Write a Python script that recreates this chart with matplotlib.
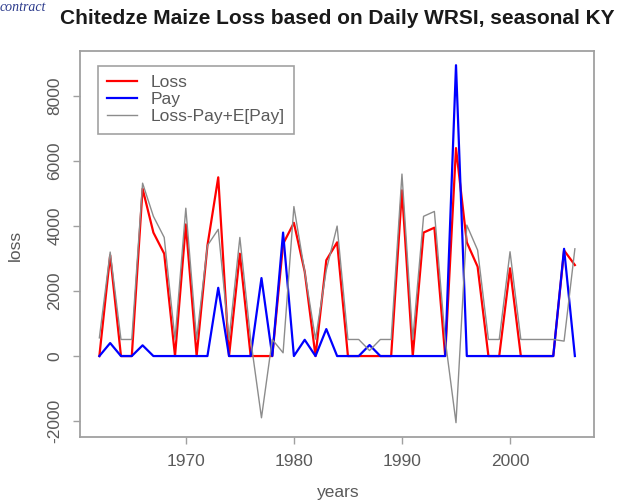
# Chitedze maize loss vs index payout (daily WRSI, seasonal KY)
import numpy as np
import matplotlib
matplotlib.use('Agg')
import matplotlib.pyplot as plt

plt.rcParams['font.family'] = ['Liberation Sans', 'DejaVu Sans']

# Data
years = list(range(1962, 2007))
loss = [0, 3100, 0, 0, 5150, 3800, 3150, 0, 4050, 0,
        3400, 5500, 0, 3150, 0, 0, 0, 3450, 4100, 2600,
        0, 2950, 3500, 0, 0, 0, 0, 0, 5100, 0,
        3800, 3950, 0, 6400, 3500, 2750, 0, 0, 2700, 0,
        0, 0, 0, 3250, 2800]
pay = [0, 400, 0, 0, 330, 0, 0, 0, 0, 0,
       0, 2100, 0, 0, 0, 2400, 0, 3800, 0, 500,
       0, 830, 0, 0, 0, 340, 0, 0, 0, 0,
       0, 0, 0, 8950, 0, 0, 0, 0, 0, 0,
       0, 0, 0, 3300, 0]
loss_net = [560, 3200, 510, 510, 5320, 4300, 3650, 510, 4550, 510,
            3400, 3900, 510, 3650, 510, -1900, 510, 100, 4600, 2600,
            520, 2650, 4000, 510, 510, 170, 510, 510, 5600, 510,
            4300, 4450, 510, -2050, 4030, 3260, 510, 510, 3210, 510,
            510, 510, 510, 460, 3300]
series_labels = ['Loss', 'Pay', 'Loss-Pay+E[Pay]']
yticks = [-2000, 0, 2000, 4000, 6000, 8000]
xticks = [1970, 1980, 1990, 2000]

fig = plt.figure(figsize=(6.18, 5.04), dpi=100)
ax = fig.add_axes([0.130, 0.133, 0.831, 0.766])

ax.plot(years, loss, color='#ff0000', lw=1.6, label=series_labels[0])
ax.plot(years, pay, color='#0000ff', lw=1.6, label=series_labels[1])
ax.plot(years, loss_net, color='#8c8c8c', lw=1.0, label=series_labels[2])
ax.margins(x=0.04, y=0.04)

axis_grey = '#a0a0a0'
text_grey = '#5a5a5a'
for s in ax.spines.values():
    s.set_color(axis_grey)
    s.set_linewidth(1.3)

ax.set_xticks(xticks)
ax.set_yticks(yticks)
ax.set_yticklabels([str(v) for v in yticks], rotation=90, va='center')
ax.tick_params(axis='both', colors=axis_grey, labelcolor=text_grey,
               labelsize=12.5, length=5, width=1.0)
ax.tick_params(axis='x', pad=7)
ax.tick_params(axis='y', pad=8)

leg = ax.legend(loc='upper left', bbox_to_anchor=(0.034, 0.962), borderaxespad=0,
                fontsize=12.5, frameon=True, fancybox=False, labelspacing=0.1,
                handlelength=1.7, handletextpad=0.8, borderpad=0.55)
leg.get_frame().set_edgecolor('#8a8a8a')
leg.get_frame().set_linewidth(1.2)
for t in leg.get_texts():
    t.set_color(text_grey)

fig.text(337 / 618, 1 - 18 / 504, 'Chitedze Maize Loss based on Daily WRSI, seasonal KY',
         ha='center', va='center', fontsize=15, fontweight='bold', color='#1a1a1a')
fig.text(338 / 618, 1 - 492 / 504, 'years', ha='center', va='center',
         fontsize=12.5, color=text_grey)
fig.text(15 / 618, 1 - 245 / 504, 'loss', ha='center', va='center', rotation=90,
         fontsize=12.5, color=text_grey)

# caption fragment from the source document at the top-left corner
fig.text(0.0, 0.999, 'contract', ha='left', va='top', fontsize=10,
         style='italic', family='Liberation Serif', color='#2b3a8c')

fig.savefig('out.png', dpi=100)
